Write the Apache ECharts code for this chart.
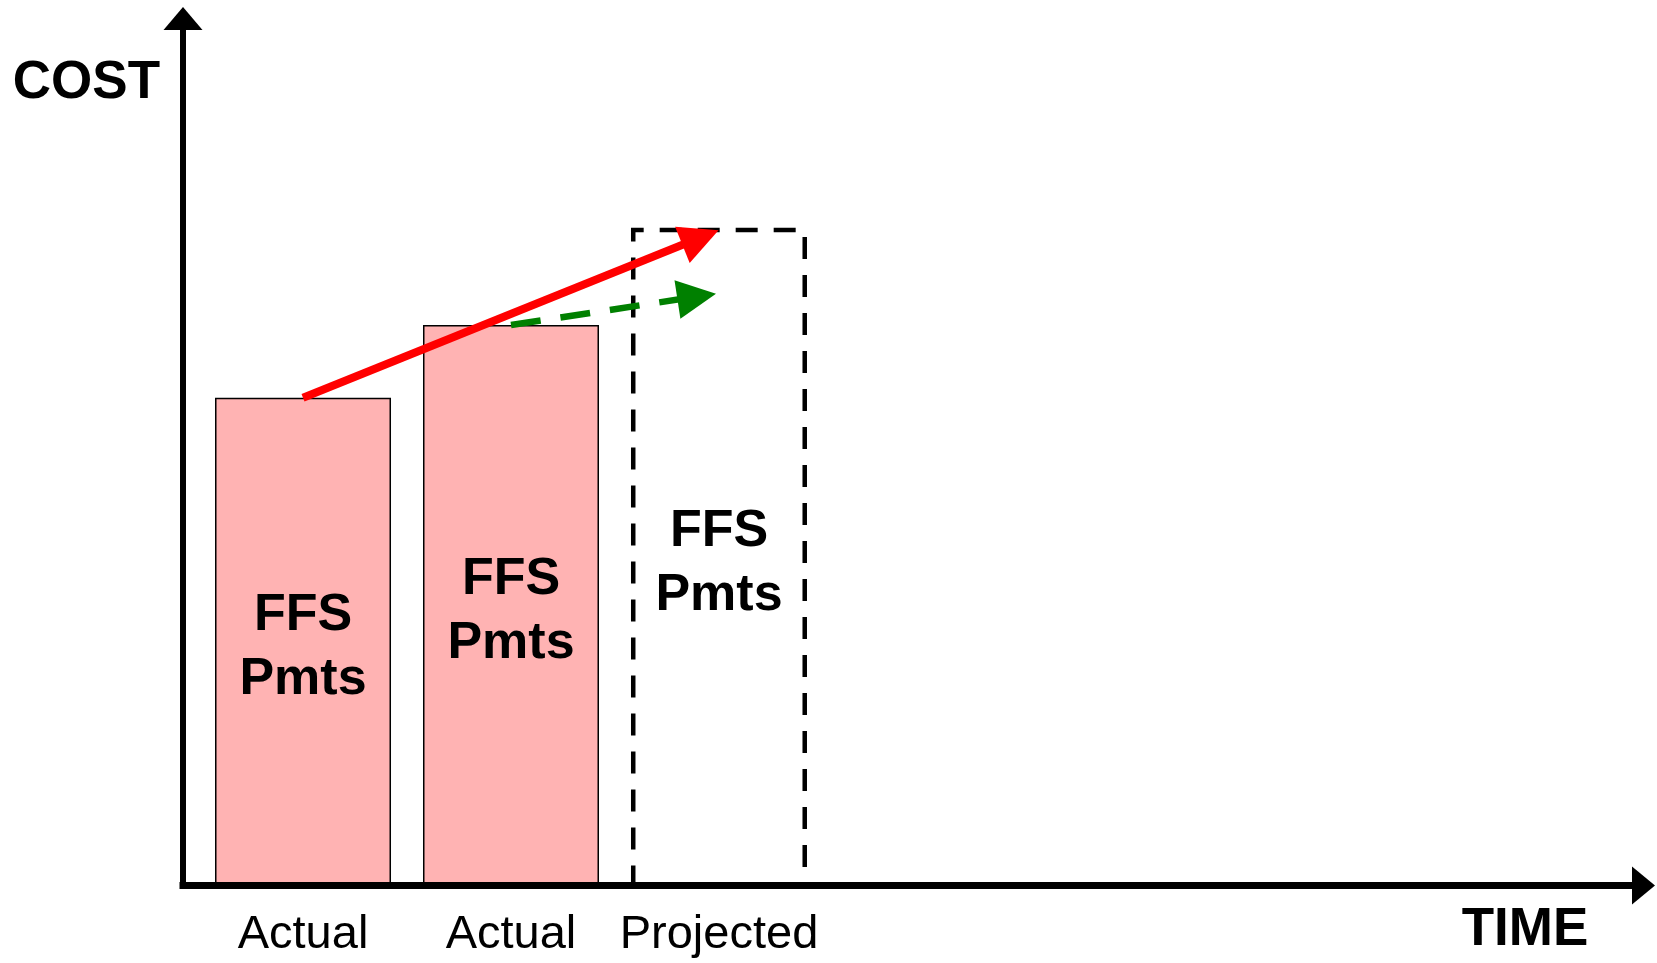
<!DOCTYPE html>
<html>
<head>
<meta charset="utf-8">
<title>FFS Pmts - cost over time</title>
<script src="https://cdn.jsdelivr.net/npm/echarts@6.0.0/dist/echarts.min.js"></script>
<style>
  html, body {
    margin: 0;
    padding: 0;
    background: #ffffff;
  }
  #chart {
    width: 1657px;
    height: 963px;
  }
</style>
</head>
<body>
<div id="chart"></div>
<script>
// periods on the time axis and their labels
const periods = [1, 2, 3];
const periodLabels = ["Actual", "Actual", "Projected"];

// cost (arbitrary units)
const actualPeriods = [1, 2];
const actualCost = [56.7, 65.0];
const projectedPeriods = [3];
const projectedCost = [76.1];

// trend arrows: [period, cost] start -> end
const trendHigh = [[1, 56.7], [2.911, 74.99]];
const trendLow = [[2, 65.0], [2.893, 68.24]];

const FONT = "'Liberation Sans', Arial, Helvetica, sans-serif";

const chart = echarts.init(document.getElementById("chart"));

// bar label inside the boxes
const barLabel = {
  show: true,
  position: "inside",
  offset: [0, 6],
  formatter: "FFS\nPmts",
  color: "#000",
  fontFamily: FONT,
  fontWeight: "bold",
  fontSize: 52,
  lineHeight: 64,
};

const option = {
  animation: false,
  grid: {
    left: 183,
    right: 13.5,
    top: 18.5,
    bottom: 77.5,
    outerBoundsMode: "none",
  },
  xAxis: {
    type: "value",
    z: 5,
    min: 0.423,
    max: 7.445,
    name: "TIME",
    nameLocation: "end",
    nameGap: -118.5,
    nameTextStyle: {
      color: "#000",
      fontFamily: FONT,
      fontWeight: "bold",
      fontSize: 53,
      align: "center",
      verticalAlign: "top",
      lineHeight: 90,
    },
    axisLine: {
      show: true,
      onZero: false,
      symbol: ["none", "triangle"],
      symbolSize: [38, 23],
      lineStyle: { color: "#000", width: 7, cap: "square" },
    },
    axisTick: { show: false },
    splitLine: { show: false },
    axisLabel: {
      show: true,
      customValues: periods,
      formatter: (v) => periodLabels[periods.indexOf(v)] || "",
      color: "#000",
      fontFamily: FONT,
      fontSize: 47,
      margin: 26,
    },
  },
  yAxis: {
    type: "value",
    z: 5,
    min: 1, // bars start just under the time axis, like the original
    max: 100,
    name: "COST",
    nameLocation: "end",
    nameGap: -64.5,
    nameTextStyle: {
      color: "#000",
      fontFamily: FONT,
      fontWeight: "bold",
      fontSize: 53,
      align: "right",
      verticalAlign: "middle",
      padding: [0, 23, 0, 0],
    },
    axisLine: {
      show: true,
      onZero: false,
      symbol: ["none", "triangle"],
      symbolSize: [39, 23],
      lineStyle: { color: "#000", width: 6, cap: "square" },
    },
    axisTick: { show: false },
    splitLine: { show: false },
    axisLabel: { show: false },
  },
  series: [
    {
      name: "Actual",
      type: "bar",
      clip: true,
      barWidth: 176,
      barGap: "-100%",
      data: actualPeriods.map((p, i) => [p, actualCost[i]]),
      itemStyle: {
        color: "#ffb3b3",
        borderColor: "#000",
        borderWidth: 1.5,
      },
      label: barLabel,
      markLine: {
        silent: true,
        symbol: ["none", "triangle"],
        symbolSize: 39,
        label: { show: false },
        lineStyle: { color: "#ff0000", width: 8, type: "solid" },
        data: [[{ coord: trendHigh[0] }, { coord: trendHigh[1] }]],
      },
    },
    {
      name: "Projected",
      type: "bar",
      clip: true,
      barWidth: 176,
      barGap: "-100%",
      data: projectedPeriods.map((p, i) => [p, projectedCost[i]]),
      itemStyle: {
        color: "rgba(0,0,0,0)",
        borderColor: "#000",
        borderWidth: 4.5,
        borderType: [22, 16],
      },
      label: barLabel,
      markLine: {
        silent: true,
        symbol: ["none", "triangle"],
        symbolSize: 39,
        label: { show: false },
        lineStyle: { color: "#008000", width: 6.5, type: [30, 20] },
        data: [[{ coord: trendLow[0] }, { coord: trendLow[1] }]],
      },
    },
  ],
};

chart.setOption(option);
window.addEventListener("resize", function () {
  chart.resize();
});
</script>
</body>
</html>
